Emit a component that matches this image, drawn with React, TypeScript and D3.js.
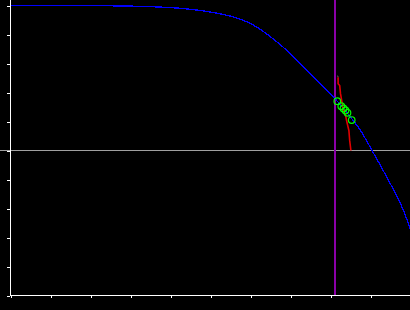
import React, { useEffect, useRef } from "react";
import * as d3 from "d3";

// Blue response curve
const curveX = [0, 2.25, 3.0, 3.75, 4.25, 4.75, 5.175, 5.575, 6.0, 6.425, 6.825, 7.075, 7.25, 7.475, 7.675, 8.075, 8.5, 8.75, 9.025, 9.425, 9.825, 10];
const curveY = [4.99, 4.99, 4.979, 4.945, 4.903, 4.828, 4.731, 4.603, 4.379, 4.0, 3.552, 3.224, 2.983, 2.672, 2.397, 1.845, 1.155, 0.69, 0.034, -0.966, -2.069, -2.724];

// Red trace
const redX = [8.19, 8.19, 8.23, 8.25, 8.31, 8.375, 8.42, 8.46, 8.48, 8.51];
const redY = [2.53, 2.3, 2.24, 1.96, 1.49, 1.21, 0.92, 0.69, 0.34, 0.0];

// Green markers
const markerX = [8.17, 8.27, 8.325, 8.375, 8.425, 8.53];
const markerY = [1.7, 1.53, 1.45, 1.38, 1.3, 1.05];

// Vertical marker and reference level
const vLineX = 8.11;
const refLevelY = 0;

const xTicks = [0, 1, 2, 3, 4, 5, 6, 7, 8, 9, 10];
const yTicks = [-5, -4, -3, -2, -1, 0, 1, 2, 3, 4, 5];

export default function App() {
  const ref = useRef<SVGSVGElement | null>(null);

  useEffect(() => {
    const svg = d3.select(ref.current);
    svg.selectAll("*").remove();
    const W = 410, H = 310;
    const x = d3.scaleLinear().domain([0, 10]).range([10.5, 410.5]);
    const y = d3.scaleLinear().domain([-5, 5]).range([295.5, 5.5]);

    svg.append("rect").attr("width", W).attr("height", H).attr("fill", "#000");

    // reference horizontal line
    svg.append("line")
      .attr("x1", 0).attr("x2", W)
      .attr("y1", y(refLevelY)).attr("y2", y(refLevelY))
      .attr("stroke", "#a0a0a0").attr("stroke-width", 1)
      .attr("shape-rendering", "crispEdges");

    // vertical marker line
    svg.append("line")
      .attr("x1", x(vLineX)).attr("x2", x(vLineX))
      .attr("y1", 0).attr("y2", y(-5))
      .attr("stroke", "#8b00a8").attr("stroke-width", 1.2)
      .attr("shape-rendering", "crispEdges");

    // axes
    const yAxis = d3.axisLeft(y).tickValues(yTicks).tickSizeInner(3).tickSizeOuter(0).tickFormat(() => "");
    const gy = svg.append("g").attr("transform", "translate(10,0)").call(yAxis as any);
    gy.select(".domain").remove();
    gy.selectAll("line").attr("stroke", "#fff").attr("shape-rendering", "crispEdges");
    const xAxis = d3.axisBottom(x).tickValues(xTicks).tickSizeInner(3).tickSizeOuter(0).tickFormat(() => "");
    const gx = svg.append("g").attr("transform", "translate(0,295)").call(xAxis as any);
    gx.select(".domain").remove();
    gx.selectAll("line").attr("stroke", "#fff").attr("shape-rendering", "crispEdges");

    svg.append("line")
      .attr("x1", 10.5).attr("x2", 10.5).attr("y1", 0).attr("y2", 295.5)
      .attr("stroke", "#fff").attr("stroke-width", 1).attr("shape-rendering", "crispEdges");
    svg.append("line")
      .attr("x1", 10.5).attr("x2", W).attr("y1", 295.5).attr("y2", 295.5)
      .attr("stroke", "#fff").attr("stroke-width", 1).attr("shape-rendering", "crispEdges");

    // blue curve
    const blue = curveX.map((v, i) => [v, curveY[i]] as [number, number]);
    const line = d3.line<[number, number]>().x(d => x(d[0])).y(d => y(d[1])).curve(d3.curveMonotoneX);
    svg.append("path").attr("d", line(blue) as string)
      .attr("fill", "none").attr("stroke", "#0000ff").attr("stroke-width", 1.3)
      .attr("shape-rendering", "crispEdges");

    // red trace
    const red = redX.map((v, i) => [v, redY[i]] as [number, number]);
    const rline = d3.line<[number, number]>().x(d => x(d[0])).y(d => y(d[1]));
    svg.append("path").attr("d", rline(red) as string)
      .attr("fill", "none").attr("stroke", "#e00000").attr("stroke-width", 1.6);
    svg.append("line")
      .attr("x1", x(redX[0]) - 0.5).attr("x2", x(redX[0]))
      .attr("y1", y(redY[0]) - 1.5).attr("y2", y(redY[0]))
      .attr("stroke", "#666").attr("stroke-width", 1);

    // markers
    svg.selectAll("circle.m").data(markerX).enter().append("circle")
      .attr("class", "m")
      .attr("cx", (d) => x(d)).attr("cy", (_d, i) => y(markerY[i]))
      .attr("r", 3.3).attr("fill", "none").attr("stroke", "#00ff00").attr("stroke-width", 1.2);
  }, []);

  return (
    <svg
      ref={ref}
      width={410}
      height={310}
      style={{ position: "fixed", top: 0, left: 0, display: "block", background: "#000" }}
    />
  );
}
